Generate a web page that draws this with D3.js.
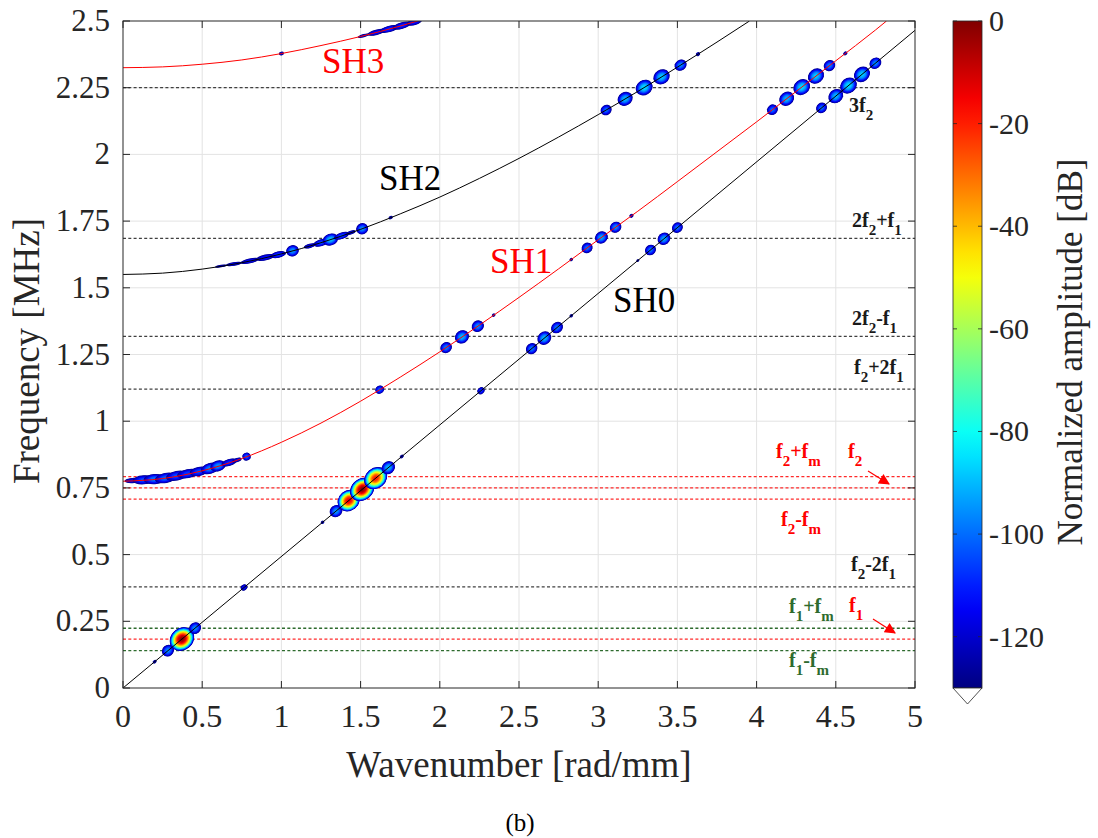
<!DOCTYPE html>
<html><head><meta charset="utf-8">
<script src="https://cdn.jsdelivr.net/npm/d3@7"></script>
<style>body{margin:0;background:#fff}svg{display:block}</style>
</head><body>
<svg id="chart" width="1098" height="838"></svg>
<script>
// ---------------- DATA ----------------
const xTicks = [0,0.5,1,1.5,2,2.5,3,3.5,4,4.5,5];
const xTickLabels = ["0","0.5","1","1.5","2","2.5","3","3.5","4","4.5","5"];
const yTicks = [0,0.25,0.5,0.75,1,1.25,1.5,1.75,2,2.25,2.5];
const yTickLabels = ["0","0.25","0.5","0.75","1","1.25","1.5","1.75","2","2.25","2.5"];
const cbTicks = [0,-20,-40,-60,-80,-100,-120];
const cbTickLabels = ["0","-20","-40","-60","-80","-100","-120"];

// dispersion curves (wavenumber rad/mm -> frequency MHz)
const sh0K = [0,5];
const sh0F = [0,2.465];
const sh1K = [0,0.25,0.5,0.75,1,1.25,1.5,1.75,2,2.25,2.5,2.75,3,3.25,3.5,3.75,4,4.25,4.5,4.75,4.82];
const sh1F = [0.775,0.785,0.814,0.860,0.921,0.993,1.075,1.165,1.260,1.360,1.464,1.571,1.680,1.787,1.898,2.010,2.122,2.236,2.351,2.466,2.5];
const sh2K = [0,0.25,0.5,0.75,1,1.25,1.5,1.75,2,2.25,2.5,2.75,3,3.25,3.5,3.75,3.955];
const sh2F = [1.55,1.555,1.570,1.594,1.627,1.669,1.719,1.777,1.840,1.910,1.985,2.065,2.149,2.236,2.327,2.421,2.5];
const sh3K = [0,0.25,0.5,0.75,1,1.25,1.5,1.75,1.86];
const sh3F = [2.325,2.328,2.338,2.354,2.378,2.408,2.442,2.481,2.5];
const modeNames = ["SH0","SH1","SH2","SH3"];

// horizontal frequency lines (MHz) and their kind
const lineFreqs = [0.14,0.183,0.224,0.379,0.708,0.75,0.792,1.12,1.318,1.685,2.25];
const lineKinds = ["g","r","g","k","r","r","r","k","k","k","k"];

// spectral peaks: [mode, wavenumber, peak dB, half-width (rad/mm), half-thickness (MHz)]
const peaks = [
 ["SH0",0.20,-122,0.014,0.006],["SH0",0.284,-96,0.04,0.021],["SH0",0.372,0,0.082,0.041],
 ["SH0",0.455,-96,0.04,0.021],["SH0",0.764,-112,0.022,0.011],["SH0",1.26,-122,0.012,0.006],
 ["SH0",1.345,-94,0.042,0.022],["SH0",1.425,-12,0.074,0.038],["SH0",1.51,0,0.082,0.04],
 ["SH0",1.595,-18,0.078,0.038],["SH0",1.675,-90,0.045,0.023],["SH0",1.76,-120,0.014,0.006],
 ["SH0",2.26,-106,0.024,0.012],["SH0",2.58,-98,0.038,0.02],["SH0",2.66,-90,0.046,0.024],
 ["SH0",2.74,-98,0.04,0.02],["SH0",2.83,-122,0.012,0.006],["SH0",3.25,-124,0.01,0.005],
 ["SH0",3.33,-99,0.036,0.019],["SH0",3.415,-92,0.042,0.022],["SH0",3.50,-99,0.036,0.019],
 ["SH0",4.41,-100,0.036,0.019],["SH0",4.50,-90,0.05,0.025],["SH0",4.58,-85,0.056,0.028],
 ["SH0",4.665,-87,0.054,0.027],["SH0",4.75,-96,0.04,0.02],
 ["SH1",0.06,-116,0.05,0.01],["SH1",0.13,-104,0.07,0.017],["SH1",0.20,-98,0.07,0.019],
 ["SH1",0.27,-100,0.07,0.019],["SH1",0.34,-104,0.07,0.018],["SH1",0.41,-106,0.07,0.017],
 ["SH1",0.48,-104,0.06,0.017],["SH1",0.55,-96,0.06,0.02],["SH1",0.60,-94,0.05,0.02],
 ["SH1",0.67,-108,0.05,0.013],["SH1",0.72,-116,0.03,0.008],["SH1",0.78,-102,0.026,0.015],
 ["SH1",1.62,-102,0.028,0.015],["SH1",2.04,-98,0.038,0.02],["SH1",2.14,-90,0.046,0.024],
 ["SH1",2.24,-96,0.04,0.021],["SH1",2.34,-122,0.012,0.006],["SH1",2.83,-122,0.012,0.006],
 ["SH1",2.93,-99,0.036,0.019],["SH1",3.02,-92,0.042,0.022],["SH1",3.11,-96,0.038,0.02],
 ["SH1",3.21,-120,0.014,0.007],["SH1",4.10,-100,0.036,0.019],["SH1",4.19,-90,0.05,0.025],
 ["SH1",4.285,-85,0.056,0.028],["SH1",4.375,-87,0.054,0.027],["SH1",4.46,-98,0.038,0.02],
 ["SH1",4.56,-120,0.014,0.007],
 ["SH2",0.62,-120,0.04,0.005],["SH2",0.70,-116,0.05,0.007],["SH2",0.80,-112,0.06,0.009],
 ["SH2",0.90,-110,0.06,0.011],["SH2",0.98,-106,0.05,0.012],["SH2",1.07,-94,0.04,0.021],
 ["SH2",1.18,-114,0.04,0.008],["SH2",1.25,-104,0.05,0.013],["SH2",1.31,-89,0.05,0.022],
 ["SH2",1.38,-104,0.05,0.012],["SH2",1.44,-116,0.03,0.007],["SH2",1.51,-96,0.038,0.021],
 ["SH2",1.69,-120,0.014,0.006],["SH2",3.05,-100,0.036,0.019],["SH2",3.17,-90,0.05,0.025],
 ["SH2",3.29,-85,0.056,0.028],["SH2",3.40,-88,0.054,0.027],["SH2",3.52,-96,0.04,0.02],
 ["SH2",3.63,-120,0.014,0.007],
 ["SH3",1.0,-118,0.016,0.007],["SH3",1.52,-120,0.04,0.006],["SH3",1.60,-112,0.06,0.01],
 ["SH3",1.68,-108,0.06,0.012],["SH3",1.76,-108,0.06,0.012],["SH3",1.84,-110,0.05,0.012]
];

const modeLabels = ["SH3","SH2","SH1","SH0"];
const annTexts = ["3f_2","2f_2+f_1","2f_2-f_1","f_2+2f_1","f_2+f_m","f_2","f_2-f_m","f_2-2f_1","f_1+f_m","f_1","f_1-f_m"];
const annKinds = ["k","k","k","k","r","r","r","k","g","r","g"];

// ---------------- LAYOUT ----------------
const plot = {l:123, r:915, t:21, b:688};
const cb = {l:953, r:982, t:21, b:688};
const modeLabelPos = [[322,73],[379,190],[490,273],[613,312]];
const annPos = [[849,112],[852,227],[852,325],[854,374],[776,458],[848,458],[781,526],[851,571],[789,613],[849,612],[789,667]];
const arrows = [[[868,471],[889,484]],[[873,619],[895,633]]];
const colors = {k:"#1a1a1a", r:"#ff0000", g:"#2e6b2e"};
const lineColors = {k:"#404040", r:"#ff2a2a", g:"#2e6b2e"};
const serif = "'Liberation Serif','Times New Roman',Times,serif";
const axisCol = "#262626";

const svg = d3.select("#chart");
const x = d3.scaleLinear().domain([0,5]).range([plot.l,plot.r]);
const y = d3.scaleLinear().domain([0,2.5]).range([plot.b,plot.t]);

function jet(t){
  const c = v => Math.max(0, Math.min(1, v));
  const r = c(Math.min(4*t-1.5, -4*t+4.5));
  const g = c(Math.min(4*t-0.5, -4*t+3.5));
  const b = c(Math.min(4*t+0.5, -4*t+2.5));
  return d3.rgb(r*255, g*255, b*255).toString();
}
const color = d3.scaleSequential(jet).domain([-130,0]).clamp(true);

const modeData = {SH0:[sh0K,sh0F], SH1:[sh1K,sh1F], SH2:[sh2K,sh2F], SH3:[sh3K,sh3F]};
const modes = {};
modeNames.forEach(m=>{ modes[m] = d3.scaleLinear().domain(modeData[m][0]).range(modeData[m][1]); });
const modeColor = {SH0:"#000", SH1:"#ff0000", SH2:"#000", SH3:"#ff0000"};

const defs = svg.append("defs");
defs.append("clipPath").attr("id","pclip").append("rect")
  .attr("x",plot.l).attr("y",plot.t).attr("width",plot.r-plot.l).attr("height",plot.b-plot.t);

// grid
const grid = svg.append("g");
grid.selectAll(".gx").data(xTicks.slice(1,-1)).join("line")
  .attr("x1",d=>x(d)).attr("x2",d=>x(d)).attr("y1",plot.t).attr("y2",plot.b)
  .attr("stroke","#e3e3e3").attr("stroke-width",1);
grid.selectAll(".gy").data(yTicks.slice(1,-1)).join("line")
  .attr("y1",d=>y(d)).attr("y2",d=>y(d)).attr("x1",plot.l).attr("x2",plot.r)
  .attr("stroke","#e3e3e3").attr("stroke-width",1);

// dashed frequency lines
svg.append("g").selectAll("line").data(lineFreqs).join("line")
  .attr("x1",plot.l).attr("x2",plot.r).attr("y1",d=>y(d)).attr("y2",d=>y(d))
  .attr("stroke",(d,i)=>lineColors[lineKinds[i]]).attr("stroke-width",1.3)
  .attr("stroke-dasharray","3,2.3");

// spectral peaks
const pk = svg.append("g").attr("clip-path","url(#pclip)");
const kpx = x(1)-x(0), fpx = y(0)-y(1);
peaks.forEach(p=>{
  const [m,k,P,ak,af] = p;
  const s = modes[m];
  const cx = x(k), cy = y(s(k));
  const x1 = x(k-0.02), y1 = y(s(k-0.02)), x2 = x(k+0.02), y2 = y(s(k+0.02));
  const ang = Math.atan2(y2-y1, x2-x1)*180/Math.PI;
  const g = pk.append("g").attr("transform",`translate(${cx},${cy}) rotate(${ang})`);
  const rx = ak*kpx, ry = af*fpx;
  for(let L=-130; L<P; L+=4){
    const sc = Math.sqrt((P-L)/(P+130));
    g.append("ellipse").attr("rx",rx*sc).attr("ry",ry*sc)
      .attr("fill",color(Math.min(L+2,P)));
  }
});

// dispersion curves
const lineGen = d3.line().x(d=>x(d[0])).y(d=>y(d[1])).curve(d3.curveMonotoneX);
const cg = svg.append("g").attr("clip-path","url(#pclip)");
modeNames.forEach(m=>{
  const [K,F] = modeData[m];
  cg.append("path").datum(K.map((k,i)=>[k,F[i]]))
    .attr("d",lineGen).attr("fill","none").attr("stroke",modeColor[m]).attr("stroke-width",1);
});

// axes box & ticks
const ax = svg.append("g");
ax.append("rect").attr("x",plot.l).attr("y",plot.t).attr("width",plot.r-plot.l).attr("height",plot.b-plot.t)
  .attr("fill","none").attr("stroke",axisCol).attr("stroke-width",1);
const tl = 7;
xTicks.forEach(v=>{
  ax.append("line").attr("x1",x(v)).attr("x2",x(v)).attr("y1",plot.b).attr("y2",plot.b-tl).attr("stroke",axisCol);
  ax.append("line").attr("x1",x(v)).attr("x2",x(v)).attr("y1",plot.t).attr("y2",plot.t+tl).attr("stroke",axisCol);
});
yTicks.forEach(v=>{
  ax.append("line").attr("y1",y(v)).attr("y2",y(v)).attr("x1",plot.l).attr("x2",plot.l+tl).attr("stroke",axisCol);
  ax.append("line").attr("y1",y(v)).attr("y2",y(v)).attr("x1",plot.r).attr("x2",plot.r-tl).attr("stroke",axisCol);
});
ax.selectAll(".xl").data(xTicks).join("text")
  .attr("x",d=>x(d)).attr("y",727).attr("text-anchor","middle")
  .attr("font-family",serif).attr("font-size",32).attr("fill",axisCol)
  .text((d,i)=>xTickLabels[i]);
ax.selectAll(".yl").data(yTicks).join("text")
  .attr("x",110).attr("y",d=>y(d)+10).attr("text-anchor","end")
  .attr("font-family",serif).attr("font-size",31).attr("fill",axisCol)
  .text((d,i)=>yTickLabels[i]);

svg.append("text").attr("x",519).attr("y",777).attr("text-anchor","middle")
  .attr("font-family",serif).attr("font-size",37).attr("fill",axisCol).text("Wavenumber [rad/mm]");
svg.append("text").attr("transform","translate(39,351) rotate(-90)").attr("text-anchor","middle")
  .attr("font-family",serif).attr("font-size",37).attr("fill",axisCol).text("Frequency [MHz]");
svg.append("text").attr("x",520).attr("y",831).attr("text-anchor","middle")
  .attr("font-family",serif).attr("font-size",25).attr("fill","#000").text("(b)");

// mode labels
modeLabels.forEach((t,i)=>{
  svg.append("text").attr("x",modeLabelPos[i][0]).attr("y",modeLabelPos[i][1])
    .attr("font-family",serif).attr("font-size",35)
    .attr("fill",(t==="SH3"||t==="SH1")?"#ff0000":"#000").text(t);
});

// annotations with subscripts
annTexts.forEach((t,i)=>{
  const te = svg.append("text").attr("x",annPos[i][0]).attr("y",annPos[i][1])
    .attr("font-family",serif).attr("font-weight","bold").attr("font-size",20)
    .attr("fill",colors[annKinds[i]]);
  let sub = false;
  for(let j=0;j<t.length;j++){
    const ch = t[j];
    if(ch==="_") continue;
    const isSub = j>0 && t[j-1]==="_";
    const ts = te.append("tspan").text(ch);
    if(isSub){ ts.attr("font-size",15).attr("dy",8); sub=true; }
    else if(sub){ ts.attr("dy",-8); sub=false; }
  }
});

// arrows
defs.append("marker").attr("id","ah").attr("viewBox","0 0 10 10").attr("refX",9).attr("refY",5)
  .attr("markerWidth",13).attr("markerHeight",11).attr("markerUnits","userSpaceOnUse").attr("orient","auto")
  .append("path").attr("d","M0,0 L10,5 L0,10 z").attr("fill","#ff0000");
arrows.forEach(a=>{
  svg.append("line").attr("x1",a[0][0]).attr("y1",a[0][1]).attr("x2",a[1][0]).attr("y2",a[1][1])
    .attr("stroke","#ff0000").attr("stroke-width",1.2).attr("marker-end","url(#ah)");
});

// colorbar
const cbs = d3.scaleLinear().domain([0,-130]).range([cb.t,cb.b]);
const grad = defs.append("linearGradient").attr("id","cbg").attr("x1",0).attr("y1",0).attr("x2",0).attr("y2",1);
d3.range(0,27).forEach(i=>{
  grad.append("stop").attr("offset",(i/26)).attr("stop-color",color(-i*5));
});
svg.append("rect").attr("x",cb.l).attr("y",cb.t).attr("width",cb.r-cb.l).attr("height",cb.b-cb.t)
  .attr("fill","url(#cbg)").attr("stroke",axisCol).attr("stroke-width",0.8);
svg.append("path").attr("d",`M${cb.l},${cb.b} L${cb.r},${cb.b} L${(cb.l+cb.r)/2},${cb.b+16} Z`)
  .attr("fill","#fff").attr("stroke",axisCol).attr("stroke-width",0.8);
cbTicks.forEach((v,i)=>{
  svg.append("line").attr("x1",cb.r).attr("x2",cb.r-4).attr("y1",cbs(v)).attr("y2",cbs(v)).attr("stroke",axisCol).attr("stroke-width",0.8);
  svg.append("line").attr("x1",cb.l).attr("x2",cb.l+4).attr("y1",cbs(v)).attr("y2",cbs(v)).attr("stroke",axisCol).attr("stroke-width",0.8);
  svg.append("text").attr("x",989).attr("y",cbs(v)+10).attr("font-family",serif).attr("font-size",30)
    .attr("fill",axisCol).text(cbTickLabels[i]);
});
svg.append("text").attr("transform","translate(1082,352) rotate(-90)").attr("text-anchor","middle")
  .attr("font-family",serif).attr("font-size",35).attr("fill",axisCol).text("Normalized amplitude [dB]");
</script>
</body></html>
